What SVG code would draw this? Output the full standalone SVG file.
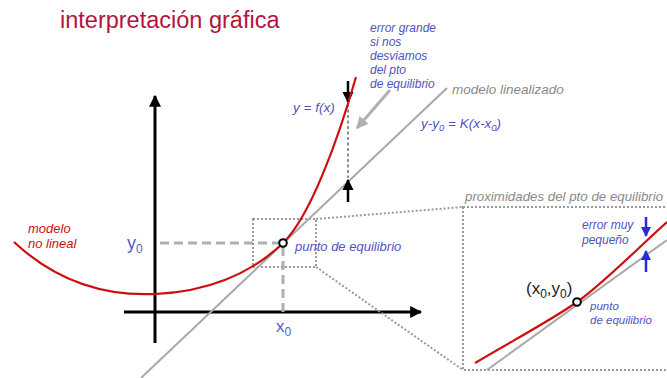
<svg xmlns="http://www.w3.org/2000/svg" width="667" height="378" viewBox="0 0 667 378">
<style>
.t{font-family:"Liberation Sans",Arial,sans-serif}
.bl{fill:#5252c0;font-style:italic}
.rd{fill:#cc1010;font-style:italic}
.gy{fill:#8a8a8a;font-style:italic}
.ax{stroke:#000;stroke-width:3;fill:none}
.dot{stroke:#9a9a9a;stroke-width:2;stroke-dasharray:2,2;fill:none}
.dash{stroke:#b0b0b0;stroke-width:3;stroke-dasharray:9,5;fill:none}
</style>
<defs>
<marker id="ah" viewBox="0 0 10 10" refX="9" refY="5" markerWidth="4" markerHeight="4" orient="auto"><path d="M0,0 L10,5 L0,10 z" fill="#000"/></marker>
<marker id="ahe" viewBox="0 0 10 10" refX="9" refY="5" markerWidth="4.6" markerHeight="4.6" orient="auto"><path d="M0,0 L10,5 L0,10 z" fill="#000"/></marker>
<marker id="ahb" viewBox="0 0 10 10" refX="9" refY="5" markerWidth="4" markerHeight="4" orient="auto"><path d="M0,0 L10,5 L0,10 z" fill="#2a2ad8"/></marker>
<marker id="ahg" viewBox="0 0 10 10" refX="9" refY="5" markerWidth="4" markerHeight="4" orient="auto"><path d="M0,0 L10,5 L0,10 z" fill="#b0b0b0"/></marker>
</defs>
<rect width="667" height="378" fill="#fff"/>
<text class="t" x="60" y="28" font-size="23.5" fill="#b3153d">interpretación gráfica</text>

<g id="axes">
<line class="ax" x1="155" y1="343" x2="155" y2="96" marker-end="url(#ah)"/>
<line class="ax" x1="124" y1="312" x2="421" y2="312" marker-end="url(#ah)"/>
</g>

<g id="guides">
<line class="dash" x1="160" y1="243" x2="280" y2="243"/>
<line class="dash" x1="283" y1="247" x2="283" y2="312"/>
<rect class="dot" x="253" y="219" width="63" height="48"/>
<rect class="dot" x="463" y="207" width="210" height="163"/>
</g>

<g id="connectors">
<line class="dot" x1="316" y1="219" x2="463" y2="207"/>
<line class="dot" x1="316" y1="267" x2="463" y2="370"/>
<line x1="141" y1="378" x2="447" y2="88" stroke="#a8a8a8" stroke-width="2"/>
<line x1="390" y1="90" x2="357" y2="128" stroke="#b0b0b0" stroke-width="3" marker-end="url(#ahg)"/>
<line x1="348" y1="104" x2="348" y2="178" stroke="#555" stroke-width="1.3" stroke-dasharray="3,2.5"/>
<line x1="348" y1="81" x2="348" y2="102" stroke="#000" stroke-width="2.5" marker-end="url(#ahe)"/>
<line x1="348" y1="202" x2="348" y2="180" stroke="#000" stroke-width="2.5" marker-end="url(#ahe)"/>
</g>

<g id="curve">
<path d="M14,242 C60,285 110,296 155,294 C205,292 250,275 283,243 C310,217 338,140 356,77" fill="none" stroke="#cc1010" stroke-width="2.2"/>
</g>

<g id="equilibrium">
<circle cx="283" cy="243" r="3.8" fill="#fff" stroke="#000" stroke-width="2"/>
</g>

<g id="labels">
<text class="t rd" x="28" y="233" font-size="13">modelo</text>
<text class="t rd" x="28" y="248" font-size="13">no lineal</text>
<text class="t" x="127" y="249" font-size="18" fill="#5a5ac8">y<tspan font-size="12" dy="4">0</tspan></text>
<text class="t" x="276" y="332" font-size="17" fill="#5a5ac8">x<tspan font-size="12" dy="4">0</tspan></text>
<text class="t bl" x="295" y="251" font-size="13">punto de equilibrio</text>
<text class="t bl" x="293" y="112" font-size="13.5">y = f(x)</text>
<text class="t bl" x="421" y="128" font-size="13.5">y-y<tspan font-size="9.5" dy="3">0</tspan><tspan dy="-3"> = K(x-x</tspan><tspan font-size="9.5" dy="3">0</tspan><tspan dy="-3">)</tspan></text>
<text class="t gy" x="452" y="94" font-size="13.5">modelo linealizado</text>
<g class="t bl" font-size="12">
<text x="370" y="32">error grande</text>
<text x="370" y="46">si nos</text>
<text x="370" y="60">desviamos</text>
<text x="370" y="74">del pto</text>
<text x="370" y="88">de equilibrio</text>
</g>
<text class="t gy" x="465" y="201" font-size="13.3">proximidades del pto de equilibrio</text>
</g>

<g id="zoom-panel">
<line x1="487" y1="370" x2="667" y2="240" stroke="#a8a8a8" stroke-width="2"/>
<path d="M475,363 C510,342 550,321 577,302 C604,283 640,246 667,222" fill="none" stroke="#cc1010" stroke-width="2.2"/>
<circle cx="577" cy="302" r="3.8" fill="#fff" stroke="#000" stroke-width="2"/>
<line x1="646" y1="217" x2="646" y2="236" stroke="#2a2ad8" stroke-width="2.5" marker-end="url(#ahb)"/>
<line x1="646" y1="272" x2="646" y2="251" stroke="#2a2ad8" stroke-width="2.5" marker-end="url(#ahb)"/>
<text class="t bl" x="582" y="229" font-size="12">error muy</text>
<text class="t bl" x="582" y="244" font-size="12">pequeño</text>
<text class="t" x="526" y="294" font-size="17" fill="#222">(x<tspan font-size="12" dy="4">0</tspan><tspan dy="-4">,y</tspan><tspan font-size="12" dy="4">0</tspan><tspan dy="-4">)</tspan></text>
<text class="t bl" x="590" y="310" font-size="11.5">punto</text>
<text class="t bl" x="590" y="324" font-size="11.5">de equilibrio</text>
</g>
</svg>
